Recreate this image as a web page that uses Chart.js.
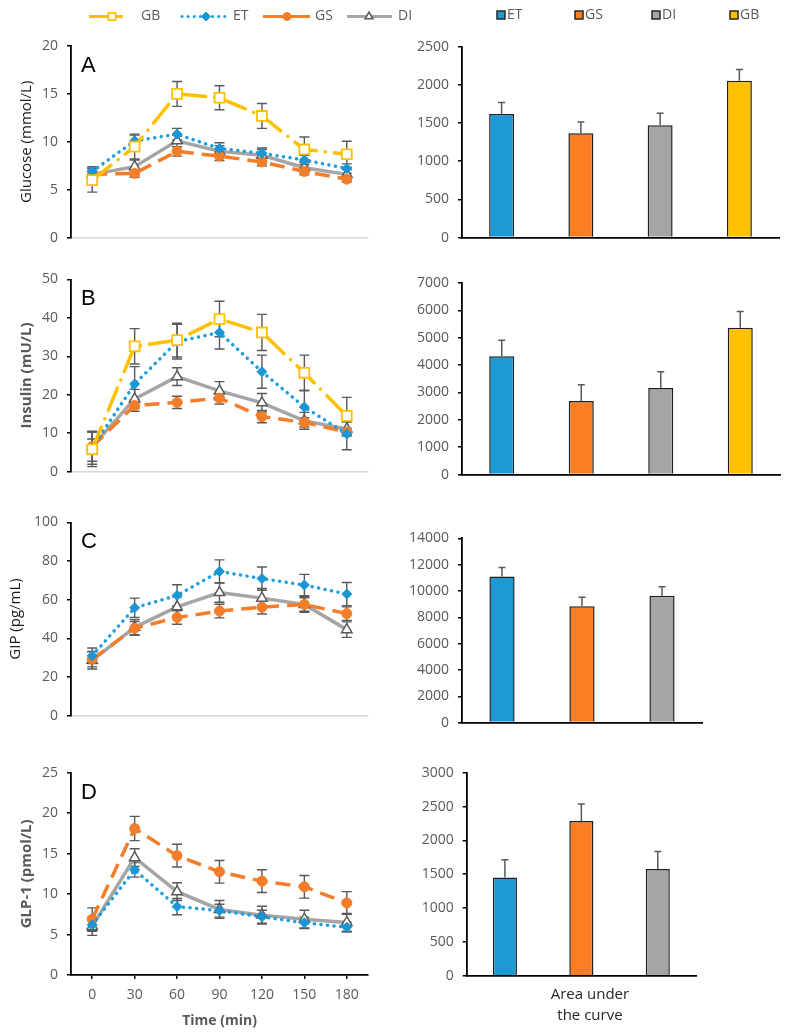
<!DOCTYPE html>
<html>
<head>
<meta charset="utf-8">
<script src="https://cdn.jsdelivr.net/npm/chart.js@4"></script>
<style>
  body { margin: 0; background: #fff; }
  #wrap { position: relative; width: 790px; height: 1036px; overflow: hidden; }
  canvas { position: absolute; }
</style>
</head>
<body>
<div id="wrap">
  <canvas id="lineA"></canvas>
  <canvas id="lineB"></canvas>
  <canvas id="lineC"></canvas>
  <canvas id="lineD"></canvas>
  <canvas id="barA"></canvas>
  <canvas id="barB"></canvas>
  <canvas id="barC"></canvas>
  <canvas id="barD"></canvas>
</div>
<script>
// time points (min)
const times = ['0', '30', '60', '90', '120', '150', '180'];

// Glucose (mmol/L), mean and error
const glucoseGB = [6.0, 9.5, 15.0, 14.6, 12.7, 9.2, 8.7];
const glucoseGBErr = [1.25, 1.3, 1.3, 1.25, 1.3, 1.3, 1.35];
const glucoseET = [6.9, 10.1, 10.8, 9.3, 8.8, 8.1, 7.2];
const glucoseETErr = [0.5, 0.6, 0.6, 0.6, 0.55, 0.5, 0.5];
const glucoseGS = [6.6, 6.7, 9.0, 8.5, 7.9, 6.9, 6.1];
const glucoseGSErr = [0.4, 0.4, 0.5, 0.45, 0.4, 0.35, 0.3];
const glucoseDI = [6.6, 7.4, 10.1, 9.0, 8.6, 7.3, 6.6];
const glucoseDIErr = [0.6, 0.7, 0.6, 0.6, 0.6, 0.5, 0.5];

// Insulin (mU/L)
const insulinGB = [5.8, 32.6, 34.2, 39.7, 36.2, 25.7, 14.5];
const insulinGBErr = [4.5, 4.6, 4.4, 4.6, 4.7, 4.6, 4.8];
const insulinET = [6.2, 22.8, 33.8, 36.2, 26.0, 16.8, 9.8];
const insulinETErr = [4.3, 4.5, 4.5, 4.3, 4.3, 4.3, 4.1];
const insulinGS = [6.5, 17.2, 18.0, 19.1, 14.3, 12.8, 10.3];
const insulinGSErr = [2.0, 1.5, 1.6, 1.5, 1.6, 1.2, 1.0];
const insulinDI = [6.5, 18.9, 24.7, 21.0, 17.9, 13.2, 11.1];
const insulinDIErr = [3.8, 2.5, 2.3, 2.4, 2.4, 2.2, 1.8];

// GIP (pg/mL)
const gipET = [31.0, 55.8, 62.2, 74.6, 70.9, 67.6, 62.9];
const gipETErr = [4, 5, 5.5, 6, 6, 5.5, 6];
const gipGS = [29.2, 45.2, 50.8, 54.1, 56.1, 57.5, 52.8];
const gipGSErr = [4, 3.5, 3.5, 3.5, 3.5, 3.5, 3.5];
const gipDI = [28.6, 45.7, 56.3, 63.7, 60.8, 57.5, 44.5];
const gipDIErr = [4.5, 4, 5, 5, 5, 4, 4];

// GLP-1 (pmol/L)
const glp1ET = [6.2, 13.0, 8.45, 7.95, 7.2, 6.45, 5.9];
const glp1ETErr = [0.8, 0.9, 1.0, 0.8, 0.8, 0.7, 0.6];
const glp1GS = [6.9, 18.1, 14.75, 12.75, 11.6, 10.9, 8.9];
const glp1GSErr = [1.4, 1.5, 1.4, 1.4, 1.4, 1.4, 1.4];
const glp1DI = [6.0, 14.5, 10.3, 8.1, 7.4, 6.9, 6.5];
const glp1DIErr = [1.1, 1.1, 1.1, 1.1, 1.1, 1.1, 1.1];

// Area under the curve
const aucGroups4 = ['ET', 'GS', 'DI', 'GB'];
const aucGroups3 = ['ET', 'GS', 'DI'];
const glucoseAuc = [1620, 1365, 1470, 2055];
const glucoseAucErr = [150, 150, 160, 148];
const insulinAuc = [4320, 2690, 3160, 5365];
const insulinAucErr = [590, 590, 595, 590];
const gipAuc = [11100, 8840, 9630];
const gipAucErr = [690, 690, 690];
const glp1Auc = [1453, 2286, 1576];
const glp1AucErr = [261, 251, 261];

// styles
const grayText = '#595959';
const tickFont = { family: 'Open Sans', size: 14 };
const barColors = { ET: '#1B9AD6', GS: '#FB7E23', DI: '#A5A5A5', GB: '#FFC000' };
const lineStyles = {
  GB: { borderColor: '#FFC000', borderDash: [24, 9, 0.1, 9], borderCapStyle: 'round',
        pointStyle: 'rect', pointRadius: 7, pointBackgroundColor: '#fff', pointBorderColor: '#FFC000', pointBorderWidth: 1.8 },
  ET: { borderColor: '#1E9FDC', borderDash: [0.1, 6.5], borderCapStyle: 'round',
        pointStyle: 'rectRot', pointRadius: 5, pointBackgroundColor: '#1A96D4', pointBorderColor: '#1A96D4', pointBorderWidth: 1 },
  GS: { borderColor: '#F47D2A', borderDash: [15, 8], borderCapStyle: 'butt',
        pointStyle: 'circle', pointRadius: 5, pointBackgroundColor: '#F47D2A', pointBorderColor: '#F47D2A', pointBorderWidth: 1 },
  DI: { borderColor: '#A5A5A5', borderDash: [], borderCapStyle: 'butt',
        pointStyle: 'triangle', pointRadius: 6, pointBackgroundColor: '#fff', pointBorderColor: '#595959', pointBorderWidth: 1.5 }
};

// error bars, drawn through the y scale
function drawErrorBars(chart, opts) {
  const ctx = chart.ctx;
  const yScale = chart.scales.y;
  ctx.save();
  ctx.strokeStyle = opts.color || grayText;
  ctx.lineWidth = opts.width || 1.5;
  chart.data.datasets.forEach((ds, i) => {
    if (!ds.errors) return;
    const meta = chart.getDatasetMeta(i);
    meta.data.forEach((el, j) => {
      const v = ds.data[j], e = ds.errors[j];
      const x = el.x;
      const yTop = yScale.getPixelForValue(v + e);
      const yBot = yScale.getPixelForValue(opts.upOnly ? v : v - e);
      const cap = opts.cap || 5;
      ctx.beginPath();
      ctx.moveTo(x, yTop); ctx.lineTo(x, yBot);
      ctx.moveTo(x - cap, yTop); ctx.lineTo(x + cap, yTop);
      if (!opts.upOnly) { ctx.moveTo(x - cap, yBot); ctx.lineTo(x + cap, yBot); }
      ctx.stroke();
    });
  });
  ctx.restore();
}
const errorBarPlugin = {
  id: 'errorBars',
  beforeDatasetsDraw(chart, args, opts) { if (opts.when === 'before') drawErrorBars(chart, opts); },
  afterDatasetsDraw(chart, args, opts) { if (opts.when === 'after') drawErrorBars(chart, opts); }
};

// panel letters and captions
const panelTextPlugin = {
  id: 'panelText',
  afterDraw(chart, args, opts) {
    if (!opts.items) return;
    const { ctx, chartArea } = chart;
    ctx.save();
    opts.items.forEach(it => {
      ctx.font = it.font;
      ctx.fillStyle = it.color;
      ctx.textAlign = it.align || 'left';
      ctx.textBaseline = it.baseline || 'alphabetic';
      const x = it.fromCenter ? (chartArea.left + chartArea.right) / 2 + it.dx : chartArea.left + it.dx;
      const y = it.fromBottom ? chartArea.bottom + it.dy : chartArea.top + it.dy;
      ctx.fillText(it.text, x, y);
    });
    ctx.restore();
  }
};

// legend for the line panels (line + marker)
const lineLegendPlugin = {
  id: 'lineLegend',
  afterDraw(chart, args, opts) {
    if (!opts.items) return;
    const ctx = chart.ctx;
    const y = opts.y;
    ctx.save();
    opts.items.forEach(it => {
      const st = lineStyles[it.name];
      ctx.strokeStyle = st.borderColor;
      ctx.lineWidth = 3;
      ctx.lineCap = it.cap || 'butt';
      ctx.setLineDash(it.dash || []);
      ctx.beginPath(); ctx.moveTo(it.x0, y); ctx.lineTo(it.x1, y); ctx.stroke();
      ctx.setLineDash([]);
      ctx.lineCap = 'butt';
      ctx.fillStyle = st.pointBackgroundColor;
      ctx.strokeStyle = st.pointBorderColor;
      ctx.lineWidth = st.pointBorderWidth;
      Chart.helpers.drawPoint(ctx, { pointStyle: st.pointStyle, radius: it.r, borderWidth: st.pointBorderWidth, rotation: 0 }, it.mx, y);
      ctx.fillStyle = grayText;
      ctx.font = '14px "Open Sans"';
      ctx.textAlign = 'left';
      ctx.textBaseline = 'middle';
      ctx.fillText(it.name, it.tx, y);
    });
    ctx.restore();
  }
};

// legend for the bar panels (swatches)
const barLegendPlugin = {
  id: 'barLegend',
  afterDraw(chart, args, opts) {
    if (!opts.items) return;
    const ctx = chart.ctx;
    const y = opts.y;
    ctx.save();
    opts.items.forEach(it => {
      ctx.fillStyle = barColors[it.name];
      ctx.strokeStyle = '#262626';
      ctx.lineWidth = 1.5;
      ctx.fillRect(it.x, y - 4, 8, 8);
      ctx.strokeRect(it.x, y - 4, 8, 8);
      ctx.fillStyle = grayText;
      ctx.font = '14px "Open Sans"';
      ctx.textBaseline = 'middle';
      ctx.fillText(it.name, it.x + 10, y);
    });
    ctx.restore();
  }
};

const plainNumber = v => String(v);

function place(id, box) {
  const c = document.getElementById(id);
  c.width = box.w; c.height = box.h;
  c.style.left = box.x + 'px'; c.style.top = box.y + 'px';
  return c;
}

function lineChart(id, box, series, y, extra) {
  const canvas = place(id, box);
  const isBottom = !!y.xTitle;
  return new Chart(canvas, {
    type: 'line',
    data: {
      labels: times,
      datasets: series.map(s => Object.assign({
        label: s.name, data: s.data, errors: s.err,
        borderWidth: 3.5, fill: false, tension: 0
      }, lineStyles[s.name]))
    },
    options: {
      responsive: false, animation: false, devicePixelRatio: 1,
      layout: { padding: { top: box.padT, right: box.padR || 27, bottom: 0, left: 0 } },
      plugins: Object.assign({
        legend: { display: false }, tooltip: { enabled: false },
        errorBars: { when: 'before', cap: 5, width: 1.4, color: grayText },
        panelText: { items: [{ text: y.letter, dx: 10, dy: 26, font: '22px "Liberation Sans"', color: '#000' }] }
      }, extra || {}),
      scales: {
        x: {
          offset: true,
          ticks: { display: isBottom, color: grayText, font: tickFont, padding: 8, maxRotation: 0 },
          grid: { display: isBottom, drawOnChartArea: false, tickLength: 4, color: '#000', lineWidth: 1.5 },
          border: { display: true, color: isBottom ? '#000' : '#D9D9D9', width: isBottom ? 1.8 : 1.5 },
          title: { display: isBottom, text: y.xTitle, color: grayText,
                   font: { family: 'Open Sans', size: 14, weight: 'bold' }, padding: { top: 0, bottom: 6.6 } },
          afterFit: s => { s.height = box.xh || 12; }
        },
        y: {
          min: 0, max: y.max,
          ticks: { stepSize: y.step, color: grayText, font: tickFont, padding: 9, callback: plainNumber },
          grid: { display: true, drawOnChartArea: false, drawTicks: true, tickLength: 4, color: '#000', lineWidth: 1.5 },
          border: { display: true, color: '#000', width: 1.8 },
          title: { display: true, text: y.title, color: y.bold ? grayText : '#1a1a1a',
                   font: { family: 'Open Sans', size: 15, weight: y.bold ? 'bold' : 'normal' },
                   padding: { top: y.titlePad, bottom: 0 } },
          afterFit: s => { s.width = 71; }
        }
      }
    },
    plugins: [errorBarPlugin, panelTextPlugin, lineLegendPlugin]
  });
}

function barChart(id, box, groups, values, errs, y, extra) {
  const canvas = place(id, box);
  return new Chart(canvas, {
    type: 'bar',
    data: {
      labels: groups,
      datasets: [{
        data: values, errors: errs,
        backgroundColor: groups.map(g => barColors[g]),
        borderColor: '#1f1f1f', borderWidth: 1.5,
        categoryPercentage: 1, barPercentage: 0.315
      }]
    },
    options: {
      responsive: false, animation: false, devicePixelRatio: 1,
      layout: { padding: { top: box.padT, right: box.padR, bottom: 0, left: 0 } },
      plugins: Object.assign({
        legend: { display: false }, tooltip: { enabled: false },
        errorBars: { when: 'after', upOnly: true, cap: 3.5, width: 1.5, color: grayText }
      }, extra || {}),
      scales: {
        x: {
          ticks: { display: false },
          grid: { display: false },
          border: { display: true, color: '#000', width: 1.8 },
          afterFit: s => { s.height = box.xh || 12; }
        },
        y: {
          min: 0, max: y.max,
          ticks: { stepSize: y.step, color: grayText, font: tickFont, padding: 9, callback: plainNumber },
          grid: { display: true, drawOnChartArea: false, drawTicks: true, tickLength: 4, color: '#000', lineWidth: 1.5 },
          border: { display: true, color: '#000', width: 1.8 },
          afterFit: s => { s.width = box.yw; }
        }
      }
    },
    plugins: [errorBarPlugin, panelTextPlugin, barLegendPlugin]
  });
}

// left column: time courses
lineChart('lineA', { x: 0, y: 0, w: 420, h: 255, padT: 46, padR: 52 }, [
  { name: 'GB', data: glucoseGB, err: glucoseGBErr },
  { name: 'ET', data: glucoseET, err: glucoseETErr },
  { name: 'GS', data: glucoseGS, err: glucoseGSErr },
  { name: 'DI', data: glucoseDI, err: glucoseDIErr }
], { max: 20, step: 5, title: 'Glucose (mmol/L)', bold: false, titlePad: 18, letter: 'A' }, {
  lineLegend: { y: 16.5, items: [
    { name: 'GB', x0: 89, x1: 123, mx: 112, tx: 141, r: 5 },
    { name: 'ET', x0: 182, x1: 227, mx: 206, tx: 233, r: 4.5, dash: [0.1, 6], cap: 'round' },
    { name: 'GS', x0: 263, x1: 310, mx: 287, tx: 315, r: 4 },
    { name: 'DI', x0: 347, x1: 392, mx: 369, tx: 398, r: 4.5 }
  ] }
});

lineChart('lineB', { x: 0, y: 262, w: 395, h: 227, padT: 17.3 }, [
  { name: 'GB', data: insulinGB, err: insulinGBErr },
  { name: 'ET', data: insulinET, err: insulinETErr },
  { name: 'GS', data: insulinGS, err: insulinGSErr },
  { name: 'DI', data: insulinDI, err: insulinDIErr }
], { max: 50, step: 10, title: 'Insulin (mU/L)', bold: true, titlePad: 18, letter: 'B' });

lineChart('lineC', { x: 0, y: 505, w: 395, h: 228, padT: 17.3 }, [
  { name: 'ET', data: gipET, err: gipETErr },
  { name: 'GS', data: gipGS, err: gipGSErr },
  { name: 'DI', data: gipDI, err: gipDIErr }
], { max: 100, step: 20, title: 'GIP (pg/mL)', bold: false, titlePad: 7, letter: 'C' });

lineChart('lineD', { x: 0, y: 755, w: 395, h: 281, padT: 17.7, xh: 61 }, [
  { name: 'ET', data: glp1ET, err: glp1ETErr },
  { name: 'GS', data: glp1GS, err: glp1GSErr },
  { name: 'DI', data: glp1DI, err: glp1DIErr }
], { max: 25, step: 5, title: 'GLP-1 (pmol/L)', bold: true, titlePad: 18, letter: 'D', xTitle: 'Time (min)' });

// right column: area under the curve
barChart('barA', { x: 400, y: 0, w: 390, h: 255, padT: 46.7, padR: 11, yw: 62 },
  aucGroups4, glucoseAuc, glucoseAucErr, { max: 2500, step: 500 }, {
  barLegend: { y: 15, items: [
    { name: 'ET', x: 97 }, { name: 'GS', x: 175 }, { name: 'DI', x: 252 }, { name: 'GB', x: 330 }
  ] }
});
barChart('barB', { x: 400, y: 262, w: 390, h: 230, padT: 21, padR: 10, yw: 62 },
  aucGroups4, insulinAuc, insulinAucErr, { max: 7000, step: 1000 });
barChart('barC', { x: 400, y: 510, w: 390, h: 230, padT: 28.3, padR: 88, yw: 62 },
  aucGroups3, gipAuc, gipAucErr, { max: 14000, step: 2000 });
barChart('barD', { x: 400, y: 755, w: 390, h: 281, padT: 17.7, padR: 94, yw: 66.7, xh: 60.3 },
  aucGroups3, glp1Auc, glp1AucErr, { max: 3000, step: 500 }, {
  panelText: { items: [
    { text: 'Area under', dx: 8.6, dy: 19.3, fromCenter: true, fromBottom: true, align: 'center', baseline: 'middle', font: '15px "Open Sans"', color: '#262626' },
    { text: 'the curve', dx: 8.6, dy: 40.3, fromCenter: true, fromBottom: true, align: 'center', baseline: 'middle', font: '15px "Open Sans"', color: '#262626' }
  ] }
});
</script>
</body>
</html>
